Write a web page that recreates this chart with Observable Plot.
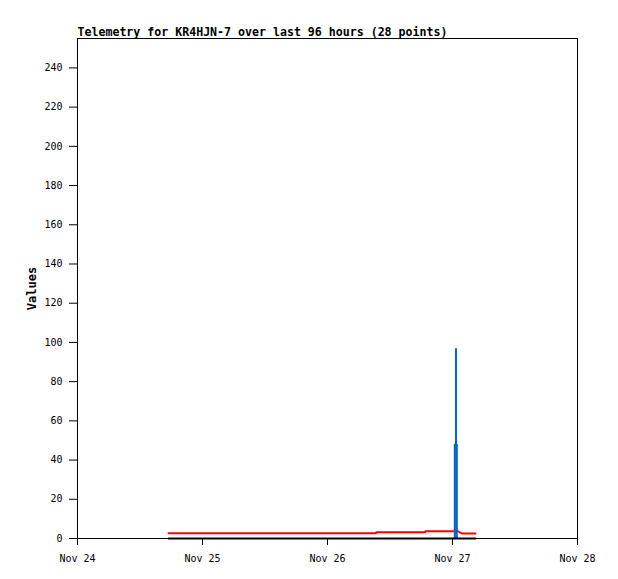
<!DOCTYPE html>
<html>
<head>
<meta charset="utf-8">
<script src="https://cdn.jsdelivr.net/npm/d3@7"></script>
<script src="https://cdn.jsdelivr.net/npm/@observablehq/plot@0.6"></script>
<style>
  html, body { margin: 0; padding: 0; background: #fff; }
  #chart svg { display: block; }
</style>
</head>
<body>
<div id="chart"></div>
<script>
// ---- data (hours after Nov 24 00:00 UTC) ----
const titleText = "Telemetry for KR4HJN-7 over last 96 hours (28 points)";
const yLabelText = "Values";
const startDate = "2023-11-24T00:00:00Z";
const endDate = "2023-11-28T00:00:00Z";
const tickDates = ["2023-11-24", "2023-11-25", "2023-11-26", "2023-11-27", "2023-11-28"];
const yTicks = [0, 20, 40, 60, 80, 100, 120, 140, 160, 180, 200, 220, 240];

const hours = [17.5, 21, 25, 29, 33, 37, 41, 45, 49, 53, 57.3, 57.4, 60, 63, 66.7, 66.8, 69, 71, 72.4, 72.7, 73.1, 73.5, 73.9, 74.5, 75, 75.5, 76, 76.4];
const redValues = [2.7, 2.7, 2.7, 2.7, 2.7, 2.7, 2.7, 2.7, 2.7, 2.7, 2.7, 3.2, 3.2, 3.2, 3.2, 3.7, 3.7, 3.7, 3.7, 3.7, 3.7, 3.0, 2.5, 2.5, 2.5, 2.5, 2.5, 2.5];
const blackValues = [0, 0, 0, 0, 0, 0, 0, 0, 0, 0, 0, 0, 0, 0, 0, 0, 0, 0, 0, 0, 0, 0, 0, 0, 0, 0, 0, 0];
const blueHours = [72.44, 72.44, 72.67, 72.67, 72.67, 72.83, 72.83];
const blueValues = [0, 48, 48, 97, 48, 48, 0];

// ---- build tables ----
const t0 = new Date(startDate).getTime();
const toDate = h => new Date(t0 + h * 3600e3);
const red = hours.map((h, i) => ({t: toDate(h), v: redValues[i]}));
const black = hours.map((h, i) => ({t: toDate(h), v: blackValues[i]}));
const blue = blueHours.map((h, i) => ({t: toDate(h), v: blueValues[i]}));

const font = "'DejaVu Sans Mono', 'Liberation Mono', monospace";

const chart = Plot.plot({
  width: 618,
  height: 579,
  marginLeft: 77,
  marginRight: 41,
  marginTop: 38,
  marginBottom: 41,
  style: {fontFamily: font, fontSize: "10px", color: "#000", background: "#fff"},
  x: {type: "utc", domain: [new Date(startDate), new Date(endDate)]},
  y: {domain: [0, 255]},
  marks: [
    Plot.axisY({ticks: yTicks, tickSize: 8, tickPadding: 7, label: null, fontSize: 10}),
    Plot.axisX({ticks: tickDates.map(d => new Date(d + "T00:00:00Z")), tickFormat: d3.utcFormat("%b %d"),
                tickSize: 7, tickPadding: 9, label: null, fontSize: 10}),
    Plot.line(red, {x: "t", y: "v", stroke: "#ff0000", strokeWidth: 2}),
    Plot.line(blue, {x: "t", y: "v", stroke: "#0066cc", strokeWidth: 2, strokeLinejoin: "miter", strokeLinecap: "butt"}),
    Plot.line(black, {x: "t", y: "v", stroke: "#000", strokeWidth: 2}),
    Plot.frame({stroke: "#000"}),
    Plot.text([titleText], {text: d => d, frameAnchor: "top-left", textAnchor: "start", lineAnchor: "bottom",
                            dy: -3, fontWeight: "bold", fontSize: 11.6, fill: "#000"}),
    Plot.text([yLabelText], {text: d => d, frameAnchor: "left", textAnchor: "middle", lineAnchor: "middle",
                             dx: -45, rotate: -90, fontWeight: "bold", fontSize: 12, fill: "#000"})
  ]
});
document.getElementById("chart").append(chart);
</script>
</body>
</html>
